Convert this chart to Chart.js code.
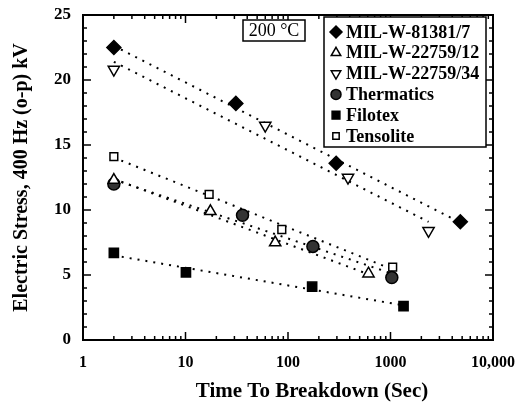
<!DOCTYPE html>
<html>
<head>
<meta charset="utf-8">
<script src="https://cdn.jsdelivr.net/npm/chart.js@4.4.0/dist/chart.umd.min.js"></script>
<style>
  html, body { margin: 0; padding: 0; background: #fff; }
  #wrap { width: 525px; height: 404px; }
</style>
</head>
<body>
<div id="wrap"><canvas id="myChart" width="525" height="404"></canvas></div>
<script>
// time to breakdown (sec) and electric stress (kV)
const seriesNames = ['MIL-W-81381/7', 'MIL-W-22759/12', 'MIL-W-22759/34', 'Thermatics', 'Filotex', 'Tensolite']
const mil81381Time = [2, 31, 295, 4800]
const mil81381Stress = [22.5, 18.2, 13.6, 9.1]
const mil22759_12Time = [2, 17.5, 75, 610]
const mil22759_12Stress = [12.3, 9.9, 7.5, 5.1]
const mil22759_34Time = [2, 60, 385, 2350]
const mil22759_34Stress = [20.8, 16.5, 12.5, 8.4]
const thermaticsTime = [2, 36, 175, 1030]
const thermaticsStress = [12.0, 9.6, 7.2, 4.8]
const filotexTime = [2, 10.1, 172, 1340]
const filotexStress = [6.7, 5.2, 4.1, 2.6]
const tensoliteTime = [2, 17, 87, 1050]
const tensoliteStress = [14.1, 11.2, 8.5, 5.6]
const xTickLabels = ['1', '10', '100', '1000', '10,000']
const xTitle = 'Time To Breakdown (Sec)'
const tempLabel = '200 \u00B0C'

const font = "'Liberation Serif', 'DejaVu Serif', serif"

const markers = [
  { style: 'rectRot', radius: 7, fill: '#000' },
  { style: 'triangle', radius: 6.5, fill: '#fff', rot: 0 },
  { style: 'triangle', radius: 6.5, fill: '#fff', rot: 180 },
  { style: 'circle', radius: 6, fill: '#333' },
  { style: 'rect', radius: 6.5, fill: '#000' },
  { style: 'rect', radius: 5.5, fill: '#fff' }
]

const times = [mil81381Time, mil22759_12Time, mil22759_34Time, thermaticsTime, filotexTime, tensoliteTime]
const stresses = [mil81381Stress, mil22759_12Stress, mil22759_34Stress, thermaticsStress, filotexStress, tensoliteStress]

// least squares fit of stress against log10(time)
function fitLine(t, s) {
  const lx = t.map(v => Math.log10(v))
  const n = lx.length
  const mx = lx.reduce((a, b) => a + b, 0) / n
  const my = s.reduce((a, b) => a + b, 0) / n
  let num = 0, den = 0
  for (let i = 0; i < n; i++) { num += (lx[i] - mx) * (s[i] - my); den += (lx[i] - mx) * (lx[i] - mx) }
  const b = num / den, a = my - b * mx
  const x0 = t[0], x1 = t[n - 1]
  return [{ x: x0, y: a + b * Math.log10(x0) }, { x: x1, y: a + b * Math.log10(x1) }]
}

const datasets = []
seriesNames.forEach((name, i) => {
  const m = markers[i]
  datasets.push({
    label: name,
    data: times[i].map((t, j) => ({ x: t, y: stresses[i][j] })),
    pointStyle: m.style,
    pointRadius: m.radius,
    pointRotation: m.rot || 0,
    backgroundColor: m.fill,
    borderColor: '#000',
    borderWidth: 1.5,
    showLine: false,
    order: 0
  })
})
seriesNames.forEach((name, i) => {
  datasets.push({
    label: name + ' fit',
    data: fitLine(times[i], stresses[i]),
    showLine: true,
    borderColor: '#000',
    borderWidth: 2,
    borderDash: [2, 6],
    pointRadius: 0,
    fill: false,
    order: 1
  })
})

// frame, inward ticks, legend box, x title and temperature label
const decorPlugin = {
  id: 'decor',
  afterDraw(chart) {
    const ctx = chart.ctx
    const a = chart.chartArea
    const xs = chart.scales.x, ys = chart.scales.y
    ctx.save()
    ctx.strokeStyle = '#000'
    ctx.lineWidth = 2
    ctx.strokeRect(a.left, a.top, a.right - a.left, a.bottom - a.top)
    ctx.lineWidth = 1.5
    // x ticks
    for (let d = 1; d <= 1000; d *= 10) {
      for (let k = 1; k < 10; k++) {
        const px = xs.getPixelForValue(d * k)
        const len = k === 1 ? 8 : 4
        ctx.beginPath(); ctx.moveTo(px, a.bottom); ctx.lineTo(px, a.bottom - len); ctx.stroke()
        ctx.beginPath(); ctx.moveTo(px, a.top); ctx.lineTo(px, a.top + len); ctx.stroke()
      }
    }
    // y ticks
    for (let v = 0; v <= 25; v++) {
      const py = ys.getPixelForValue(v)
      const len = v % 5 === 0 ? 8 : 4
      ctx.beginPath(); ctx.moveTo(a.left, py); ctx.lineTo(a.left + len, py); ctx.stroke()
      ctx.beginPath(); ctx.moveTo(a.right, py); ctx.lineTo(a.right - len, py); ctx.stroke()
    }
    // x axis title, sits a bit right of centre in the original
    ctx.font = 'bold 21px ' + font
    ctx.fillStyle = '#000'
    ctx.textAlign = 'center'
    ctx.textBaseline = 'middle'
    ctx.fillText(xTitle, 312, 392)
    // temperature box
    ctx.font = '18px ' + font
    ctx.lineWidth = 1.5
    ctx.fillStyle = '#fff'
    ctx.fillRect(243, 20, 62, 21)
    ctx.strokeRect(243, 20, 62, 21)
    ctx.fillStyle = '#000'
    ctx.fillText(tempLabel, 274, 31)
    // legend box
    ctx.fillStyle = '#fff'
    ctx.fillRect(324, 17, 162, 130)
    ctx.strokeRect(324, 17, 162, 130)
    ctx.font = 'bold 18px ' + font
    ctx.textAlign = 'left'
    seriesNames.forEach((name, i) => {
      const y = 32 + i * 20.8
      const m = markers[i]
      ctx.fillStyle = m.fill
      ctx.strokeStyle = '#000'
      ctx.lineWidth = 1.5
      Chart.helpers.drawPoint(ctx, { pointStyle: m.style, radius: m.radius - 1, rotation: m.rot || 0, borderWidth: 1.5 }, 336, y)
      ctx.fillStyle = '#000'
      ctx.fillText(name, 346, y + 1)
    })
    ctx.restore()
  }
}

const ctx = document.getElementById('myChart').getContext('2d')
const myChart = new Chart(ctx, {
  type: 'scatter',
  data: { datasets: datasets },
  options: {
    responsive: false,
    animation: false,
    layout: { padding: { left: 0, right: 32, top: 15, bottom: 0 } },
    plugins: { legend: { display: false }, tooltip: { enabled: false } },
    scales: {
      x: {
        type: 'logarithmic',
        min: 1,
        max: 10000,
        afterBuildTicks(scale) {
          scale.ticks = xTickLabels.map((l, i) => ({ value: Math.pow(10, i), label: l }))
        },
        afterFit(scale) { scale.height = 64 },
        ticks: {
          autoSkip: false,
          maxRotation: 0,
          padding: 5,
          color: '#000',
          font: { family: font, size: 16, weight: 'bold' },
          callback(value, index) { return xTickLabels[index] }
        },
        grid: { display: false },
        border: { display: false },
        title: { display: false }
      },
      y: {
        min: 0,
        max: 25,
        afterFit(scale) { scale.width = 83 },
        ticks: {
          stepSize: 5,
          padding: 4,
          color: '#000',
          font: { family: font, size: 17, weight: 'bold' }
        },
        grid: { display: false },
        border: { display: false },
        title: {
          display: true,
          text: 'Electric Stress, 400 Hz (o-p) kV',
          color: '#000',
          padding: { top: 10, bottom: 0 },
          font: { family: font, size: 20, weight: 'bold' }
        }
      }
    }
  },
  plugins: [decorPlugin]
})
</script>
</body>
</html>
